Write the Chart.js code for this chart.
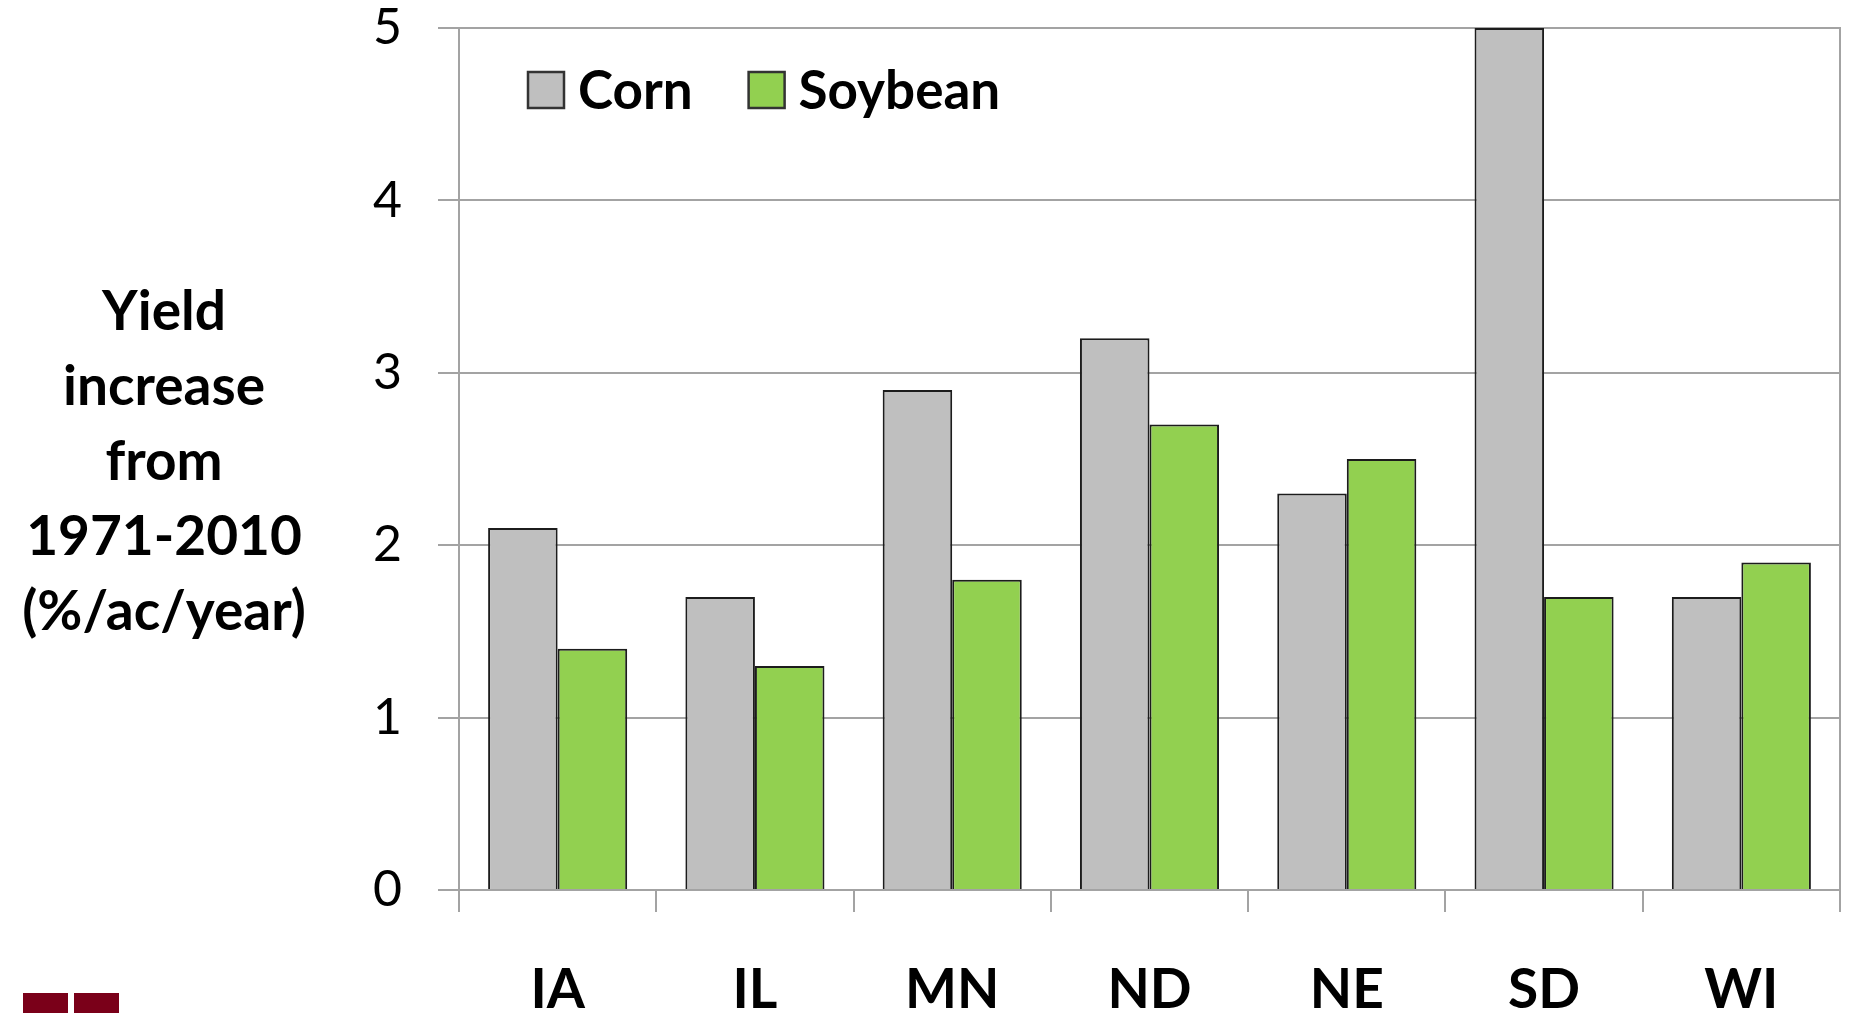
<!DOCTYPE html>
<html><head><meta charset="utf-8">
<script src="https://cdn.jsdelivr.net/npm/chart.js@4"></script>
<style>html,body{margin:0;padding:0;background:#fff;overflow:hidden}
#wrap{width:1851px;height:1013px;position:relative}</style>
</head><body><div id="wrap"><canvas id="c" width="1851" height="1013"></canvas></div>
<script>
const categories = ['IA', 'IL', 'MN', 'ND', 'NE', 'SD', 'WI'];
const cornValues = [2.1, 1.7, 2.9, 3.2, 2.3, 5.0, 1.7];
const soybeanValues = [1.4, 1.3, 1.8, 2.7, 2.5, 1.7, 1.9];
const seriesNames = ['Corn', 'Soybean'];
const yTickValues = [0, 1, 2, 3, 4, 5];
const yTitleLines = ['Yield', 'increase', 'from', '1971-2010', '(%/ac/year)'];

const FONT = 'Lato, "Open Sans", "Liberation Sans", sans-serif';
const GRID = '#a3a3a3';

const decorPlugin = {
  id: 'decor',
  afterDraw(chart) {
    const ctx = chart.ctx;
    const ca = chart.chartArea;
    ctx.save();
    // axis title (horizontal, multi-line)
    ctx.fillStyle = '#000';
    ctx.font = 'bold 55px ' + FONT;
    ctx.textAlign = 'center';
    ctx.textBaseline = 'alphabetic';
    yTitleLines.forEach((t, i) => ctx.fillText(t, 164, 330 + i * 75));
    // legend inside plot area
    let x = ca.left + 69;
    const boxTop = ca.top + 44, box = 36;
    ctx.textAlign = 'left';
    chart.data.datasets.forEach(ds => {
      ctx.fillStyle = ds.backgroundColor;
      ctx.fillRect(x, boxTop, box, box);
      ctx.strokeStyle = '#333';
      ctx.lineWidth = 2.5;
      ctx.strokeRect(x, boxTop, box, box);
      ctx.fillStyle = '#000';
      ctx.font = 'bold 53px ' + FONT;
      ctx.fillText(ds.label, x + box + 14, boxTop + box + 1);
      x += box + 14 + ctx.measureText(ds.label).width + 56;
    });
    // logo fragment at bottom-left
    ctx.fillStyle = '#7a0019';
    ctx.fillRect(23, 993, 45, 25);
    ctx.fillRect(74, 993, 45, 25);
    ctx.restore();
  }
};

new Chart(document.getElementById('c'), {
  type: 'bar',
  data: {
    labels: categories,
    datasets: [
      { label: seriesNames[0], data: cornValues, backgroundColor: '#bfbfbf', borderColor: '#1c1c1c', borderWidth: 2 },
      { label: seriesNames[1], data: soybeanValues, backgroundColor: '#92d050', borderColor: '#1c1c1c', borderWidth: 2 }
    ]
  },
  options: {
    responsive: false,
    animation: false,
    devicePixelRatio: 1,
    layout: { padding: { top: 28, right: 11, left: 0, bottom: 0 } },
    datasets: { bar: { categoryPercentage: 0.705, barPercentage: 1.0 } },
    plugins: { legend: { display: false }, tooltip: { enabled: false } },
    scales: {
      x: {
        offset: true,
        grid: { display: true, drawOnChartArea: false, drawTicks: true, tickLength: 22, color: GRID, lineWidth: 2 },
        border: { display: true, color: GRID, width: 2 },
        ticks: { color: '#000', font: { family: FONT, size: 55, weight: 'bold', lineHeight: 1.0 }, padding: 51, maxRotation: 0 },
        afterFit: s => { s.height = 123; s.paddingLeft = 0; s.paddingRight = 0; }
      },
      y: {
        min: 0, max: 5,
        afterBuildTicks: s => { s.ticks = yTickValues.map(v => ({ value: v })); },
        grid: { color: GRID, lineWidth: 2, drawTicks: true, tickLength: 21 },
        border: { display: true, color: GRID, width: 2 },
        ticks: { color: '#000', font: { family: FONT, size: 50, lineHeight: 1.0 }, padding: 36 },
        afterFit: s => { s.width = 459; s.paddingTop = 20; s.paddingBottom = 20; }
      },
      y2: {
        position: 'right', min: 0, max: 5,
        grid: { display: false, drawTicks: false },
        ticks: { display: false },
        border: { display: true, color: GRID, width: 2 }
      }
    }
  },
  plugins: [decorPlugin]
});
</script></body></html>
